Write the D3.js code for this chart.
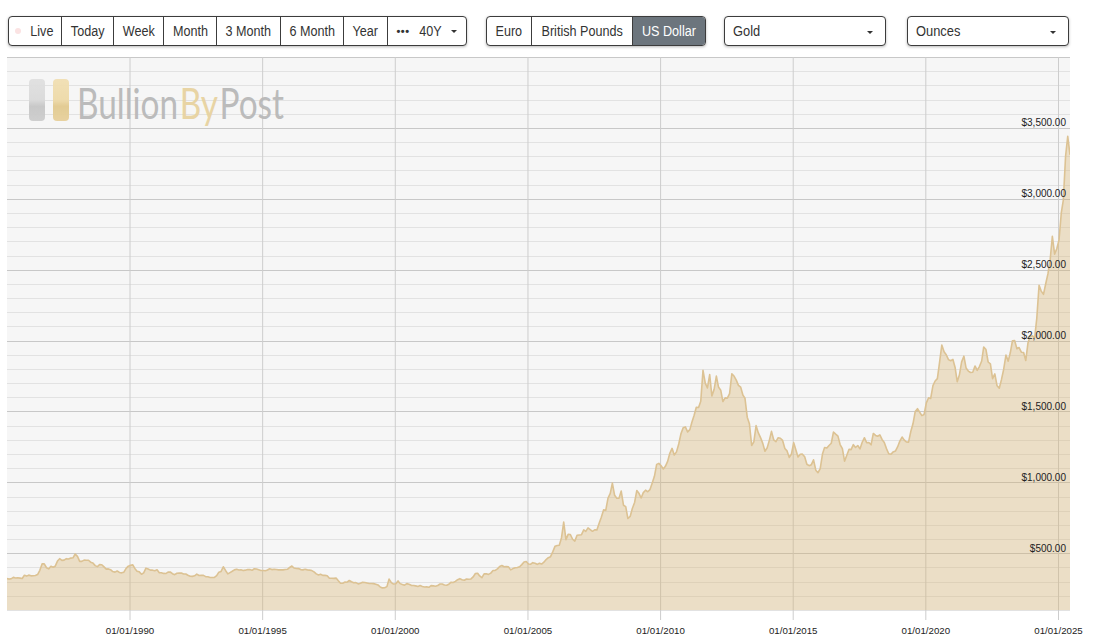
<!DOCTYPE html>
<html>
<head>
<meta charset="utf-8">
<script src="https://cdn.jsdelivr.net/npm/d3@7"></script>
<style>
  body { margin: 0; background: #fff; font-family: "Liberation Sans", Arial, sans-serif; }
  #wrap { position: relative; width: 1095px; height: 635px; overflow: hidden; }
  #chart { position: absolute; left: 0; top: 0; }
  .group, .select {
    position: absolute; top: 16px; height: 30px; box-sizing: border-box;
    border: 1px solid #3c3c3c; border-radius: 4px; background: #fff;
    box-shadow: 0 1px 3px rgba(0, 0, 0, .28); font-size: 14px; color: #333;
  }
  .group { display: flex; overflow: hidden; }
  .group div {
    box-sizing: border-box; height: 100%; display: flex; align-items: center;
    justify-content: center; border-left: 1px solid #3c3c3c; white-space: nowrap;
  }
  .group div:first-child { border-left: none; }
  .group span.t { display: inline-block; transform: scaleX(0.9); }
  .group div.active { background: #6c757d; color: #fff; }
  .dot { width: 6px; height: 6px; border-radius: 50%; background: #fbe3e3; margin-right: 8px; }
  .dots { font-weight: bold; font-size: 11px; letter-spacing: 0.5px; margin-right: 8px; }
  .caret { width: 0; height: 0; border-left: 3px solid transparent; border-right: 3px solid transparent; border-top: 3px solid #333; }
  .select .label { position: absolute; left: 8px; top: 6px; display: inline-block; transform: scaleX(0.92); transform-origin: left center; }
  .select .caret { position: absolute; right: 12px; top: 14px; }
</style>
</head>
<body>
<div id="wrap">
  <svg id="chart" width="1095" height="635"></svg>

  <div class="group" style="left:8px">
    <div style="width:52px"><span class="dot"></span><span class="t">Live</span></div>
    <div style="width:52px"><span class="t">Today</span></div>
    <div style="width:50px"><span class="t">Week</span></div>
    <div style="width:53px"><span class="t">Month</span></div>
    <div style="width:64px"><span class="t">3 Month</span></div>
    <div style="width:63px"><span class="t">6 Month</span></div>
    <div style="width:44px"><span class="t">Year</span></div>
    <div style="width:79px"><span class="dots">•••</span><span class="t">40Y</span><span class="caret" style="margin-left:9px"></span></div>
  </div>

  <div class="group" style="left:486px">
    <div style="width:44px"><span class="t">Euro</span></div>
    <div style="width:101px"><span class="t">British Pounds</span></div>
    <div class="active" style="width:73px"><span class="t">US Dollar</span></div>
  </div>

  <div class="select" style="left:724px; width:162px"><span class="label">Gold</span><span class="caret"></span></div>
  <div class="select" style="left:907px; width:162px"><span class="label">Ounces</span><span class="caret"></span></div>
</div>

<script>
// monthly gold price, USD per ounce (mid-month points)
const firstMonth = new Date(1985, 4, 15)
const prices1980s = [
  322, 318, 320, 330, 326, 327, 325, 322,
  345, 339, 346, 341, 342, 343, 350, 380, 425, 425, 398, 390,
  408, 401, 409, 445, 462, 450, 452, 462, 460, 466, 468, 495,
  478, 443, 443, 452, 451, 451, 437, 432, 413, 406, 420, 419,
  404, 388, 390, 384, 371, 367, 375, 365, 362, 367, 394, 409
]
const prices1990s = [
  415, 418, 393, 374, 369, 352, 362, 395, 389, 381, 381, 377,
  383, 363, 363, 358, 357, 367, 368, 356, 349, 359, 360, 361,
  354, 354, 345, 338, 337, 341, 353, 343, 345, 344, 335, 334,
  329, 329, 330, 342, 367, 372, 405, 379, 355, 364, 373, 383,
  387, 382, 384, 378, 381, 385, 385, 380, 391, 389, 384, 379,
  379, 377, 382, 391, 385, 387, 386, 383, 383, 383, 386, 387,
  400, 410, 396, 393, 392, 385, 383, 387, 383, 381, 378, 369,
  355, 347, 352, 344, 344, 341, 324, 324, 323, 325, 306, 289,
  289, 297, 296, 308, 299, 292, 293, 284, 289, 296, 294, 291,
  287, 287, 286, 282, 277, 262, 256, 257, 265, 318, 293, 283
]
const prices2000s = [
  285, 305, 286, 280, 275, 286, 282, 274, 273, 270, 266, 272,
  266, 262, 263, 260, 272, 270, 268, 273, 283, 283, 276, 275,
  282, 296, 294, 302, 314, 321, 313, 310, 319, 317, 319, 333,
  357, 359, 340, 328, 355, 356, 351, 360, 379, 379, 390, 407,
  414, 405, 406, 404, 383, 392, 398, 400, 405, 420, 439, 442,
  424, 423, 434, 429, 422, 430, 424, 437, 456, 469, 476, 510,
  549, 555, 557, 610, 720, 596, 633, 632, 599, 586, 627, 629,
  631, 665, 654, 679, 667, 655, 665, 665, 712, 754, 806, 803,
  889, 922, 995, 909, 888, 889, 939, 839, 829, 745, 760, 816,
  858, 943, 924, 890, 928, 945, 934, 949, 996, 1043, 1127, 1134
]
const prices2010s = [
  1117, 1095, 1113, 1148, 1205, 1240, 1193, 1215, 1271, 1342, 1385, 1391,
  1356, 1372, 1424, 1473, 1530, 1528, 1572, 1790, 1700, 1666, 1760, 1610,
  1656, 1750, 1673, 1650, 1570, 1596, 1594, 1626, 1765, 1750, 1721, 1684,
  1671, 1615, 1593, 1460, 1414, 1260, 1286, 1400, 1349, 1316, 1275, 1220,
  1244, 1300, 1360, 1299, 1287, 1315, 1311, 1296, 1239, 1222, 1176, 1200,
  1280, 1227, 1179, 1198, 1199, 1181, 1128, 1118, 1125, 1159, 1086, 1068,
  1097, 1200, 1246, 1242, 1260, 1276, 1355, 1340, 1326, 1267, 1238, 1150,
  1192, 1234, 1231, 1266, 1246, 1260, 1236, 1283, 1315, 1280, 1281, 1265,
  1345, 1331, 1325, 1335, 1303, 1282, 1238, 1202, 1198, 1215, 1221, 1250,
  1291, 1320, 1300, 1285, 1284, 1359, 1413, 1500, 1520, 1495, 1471, 1479
]
const prices2020s = [
  1561, 1597, 1592, 1683, 1715, 1732, 1846, 1968, 1921, 1900, 1866, 1858,
  1867, 1808, 1710, 1760, 1850, 1890, 1807, 1785, 1775, 1777, 1821, 1790,
  1817, 1856, 1955, 1937, 1849, 1836, 1732, 1765, 1681, 1664, 1726, 1798,
  1898, 1855, 1912, 1999, 2000, 1943, 1951, 1918, 1916, 1860, 1985, 2030,
  2033, 2023, 2159, 2390, 2349, 2326, 2399, 2470, 2571, 2735, 2610, 2648,
  2710, 2900, 2990, 3300, 3440, 3310
]
const tickYears = [1990, 1995, 2000, 2005, 2010, 2015, 2020, 2025]
const priceLabels = [500, 1000, 1500, 2000, 2500, 3000, 3500]

const plotLeft = 7, plotRight = 1070, plotTop = 57, plotBottom = 610

const monthly = [].concat(prices1980s, prices1990s, prices2000s, prices2010s, prices2020s)
const data = monthly.map((v, i) => ({ date: d3.timeMonth.offset(firstMonth, i), value: v }))

const x = d3.scaleTime()
  .domain([new Date(1985, 4, 20), new Date(2025, 5, 15)])
  .range([plotLeft, plotRight])
const y = d3.scaleLinear()
  .domain([100, 4000])
  .range([plotBottom, plotTop])

const svg = d3.select('#chart')
const defs = svg.append('defs')

defs.append('clipPath').attr('id', 'plotClip')
  .append('rect')
  .attr('x', plotLeft).attr('y', plotTop)
  .attr('width', plotRight - plotLeft).attr('height', plotBottom - plotTop)

svg.append('rect')
  .attr('x', plotLeft).attr('y', plotTop)
  .attr('width', plotRight - plotLeft).attr('height', plotBottom - plotTop)
  .attr('fill', '#f6f6f6')

// horizontal grid, light every $100, darker every $500
svg.append('g').selectAll('line')
  .data(d3.range(100, 4001, 100))
  .enter().append('line')
  .attr('x1', plotLeft).attr('x2', plotRight)
  .attr('y1', d => Math.round(y(d)) + 0.5).attr('y2', d => Math.round(y(d)) + 0.5)
  .attr('stroke', d => d % 500 === 0 ? '#c8c8c8' : '#e2e2e2')
  .attr('stroke-width', 1)

// vertical grid + date labels
const xAxis = d3.axisBottom(x)
  .tickValues(tickYears.map(yr => new Date(yr, 0, 1)))
  .tickFormat(d3.timeFormat('%d/%m/%Y'))
  .tickSize(-(620 - plotTop))
  .tickPadding(7)

const xg = svg.append('g')
  .attr('transform', 'translate(0,620)')
  .call(xAxis)
xg.select('.domain').remove()
xg.selectAll('.tick line').attr('stroke', '#cdcdcd')
xg.selectAll('.tick text')
  .attr('fill', '#222')
  .style('font-family', '"Liberation Sans", Arial, sans-serif')
  .style('font-size', '9.7px')

// watermark logo
const grayGrad = defs.append('linearGradient').attr('id', 'grayBar').attr('x1', 0).attr('x2', 0).attr('y1', 0).attr('y2', 1)
grayGrad.append('stop').attr('offset', '0%').attr('stop-color', '#e0e0e0')
grayGrad.append('stop').attr('offset', '50%').attr('stop-color', '#dadada')
grayGrad.append('stop').attr('offset', '65%').attr('stop-color', '#c6c6c6')
grayGrad.append('stop').attr('offset', '100%').attr('stop-color', '#cdcdcd')
const goldGrad = defs.append('linearGradient').attr('id', 'goldBar').attr('x1', 0).attr('x2', 0).attr('y1', 0).attr('y2', 1)
goldGrad.append('stop').attr('offset', '0%').attr('stop-color', '#f1dfb3')
goldGrad.append('stop').attr('offset', '50%').attr('stop-color', '#eedaa9')
goldGrad.append('stop').attr('offset', '65%').attr('stop-color', '#e2c98f')
goldGrad.append('stop').attr('offset', '100%').attr('stop-color', '#e8d19c')

const logo = svg.append('g').attr('opacity', 0.95)
logo.append('rect').attr('x', 29).attr('y', 79).attr('width', 16).attr('height', 42).attr('rx', 4).attr('fill', 'url(#grayBar)')
logo.append('rect').attr('x', 53).attr('y', 79).attr('width', 16).attr('height', 42).attr('rx', 4).attr('fill', 'url(#goldBar)')

// wordmark: laid out at natural width, then squeezed to fit 207px
const logoParts = [
  { text: 'Bullion', color: '#b8b8b8' },
  { text: 'By', color: '#e8d3a0' },
  { text: 'Post', color: '#b8b8b8' }
]
const word = logo.append('g')
let cursor = 0
logoParts.forEach(p => {
  const t = word.append('text')
    .attr('x', cursor).attr('y', 0)
    .attr('fill', p.color)
    .style('font-family', 'Lato, "DejaVu Sans", sans-serif')
    .style('font-weight', 400)
    .style('font-size', '43px')
    .text(p.text)
  cursor += t.node().getComputedTextLength() + 2
})
word.attr('transform', `translate(77,119) scale(${207 / (cursor - 2)},1)`)

// price area
const area = d3.area()
  .x(d => x(d.date))
  .y0(plotBottom)
  .y1(d => y(d.value))

const line = d3.line()
  .x(d => x(d.date))
  .y(d => y(d.value))

const plot = svg.append('g').attr('clip-path', 'url(#plotClip)')

plot.append('path')
  .datum(data)
  .attr('d', area)
  .attr('fill', 'rgb(214,178,110)')
  .attr('fill-opacity', 0.35)

plot.append('path')
  .datum(data)
  .attr('d', line)
  .attr('fill', 'none')
  .attr('stroke', '#dcc293')
  .attr('stroke-width', 1.6)
  .attr('stroke-linejoin', 'round')

// price labels on the right, sitting just above their grid line
const yAxis = d3.axisLeft(y)
  .tickValues(priceLabels)
  .tickFormat(d3.format('$,.2f'))
  .tickSize(0)
  .tickPadding(0)

const yg = svg.append('g')
  .attr('transform', 'translate(1066,0)')
  .call(yAxis)
yg.select('.domain').remove()
yg.selectAll('.tick text')
  .attr('dy', '-0.2em')
  .attr('fill', '#222')
  .style('font-family', '"Liberation Sans", Arial, sans-serif')
  .style('font-size', '10px')
</script>
</body>
</html>
